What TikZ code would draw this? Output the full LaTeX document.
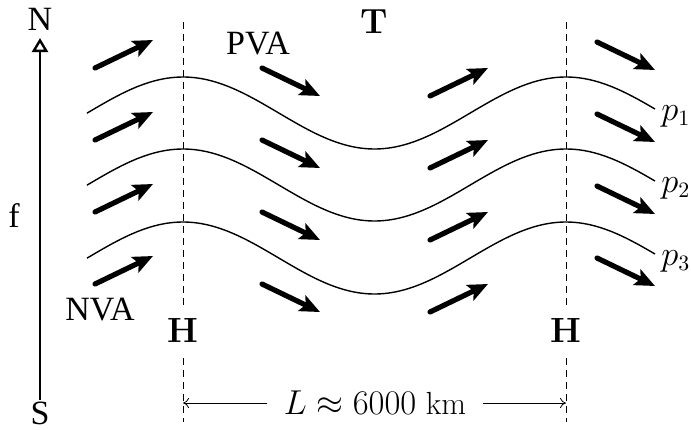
\documentclass[tikz,border=0pt]{standalone}
\usepackage{fontspec}
\newfontfamily\tms{Liberation Serif}
\usetikzlibrary{arrows.meta}
\begin{document}
\begin{tikzpicture}[x=0.5pt,y=-0.5pt,
  wind/.style={line width=2.6pt,line cap=round,-{Stealth[length=10pt,width=8.5pt,inset=2pt]}},
  wave/.style={line width=0.7pt},
  axisline/.style={line width=1.3pt,-{Triangle[open,length=7pt,width=8pt,line width=1.2pt]}},
  trough/.style={line width=0.5pt,dash pattern=on 3.5pt off 2.5pt},
  bold/.style={inner sep=0pt,font=\fontsize{17.5}{20}\selectfont\bfseries},
  mlbl/.style={inner sep=0pt,font=\fontsize{16}{18}\selectfont},
  tlbl/.style={inner sep=0pt,font=\fontsize{17}{20}\selectfont\tms},
  dim/.style={line width=0.4pt,-{To[length=3pt,width=5pt]}}]
\useasboundingbox (0,0) rectangle (691,429);
% axis
\coordinate (s0) at (40,400);
\coordinate (n0) at (40,38);
\draw[axisline] (s0) -- (n0);
\node[tlbl] (N) at (40,19) {N};
\node[tlbl] (S) at (40,413) {S};
\node[tlbl] (f) at (14,216) {f};
% dashed trough/ridge lines
\coordinate (d1t) at (183,22); \coordinate (d1b) at (183,422);
\coordinate (d2t) at (566,22); \coordinate (d2b) at (566,422);
\draw[trough] (d1t) -- (d1b);
\draw[trough] (d2t) -- (d2b);
% waves
\foreach \m in {113,185,258}{
  \draw[wave] plot[domain=87:655,samples=150,smooth] (\x,{\m-36*cos(0.93995*(\x-183))});
}
% wind arrows
\foreach \dy in {0,72,144,216}{
  \draw[wind] (95,68+\dy) -- (153,40+\dy);
  \draw[wind] (262,68+\dy) -- (320,96+\dy);
  \draw[wind] (430,96+\dy) -- (488,68+\dy);
  \draw[wind] (597,42+\dy) -- (655,70+\dy);
}
% labels
\node[tlbl] (pva) at (258,44) {PVA};
\node[tlbl] (nva) at (100,310) {NVA};
\node[bold] (T) at (374,22) {T};
\node[bold,fill=white,inner ysep=6pt] (H1) at (183,330) {H};
\node[bold,fill=white,inner ysep=6pt] (H2) at (566,330) {H};
\node[mlbl,anchor=west] (p1) at (661,116) {$p_1$};
\node[mlbl,anchor=west] (p2) at (661,188) {$p_2$};
\node[mlbl,anchor=west] (p3) at (661,261) {$p_3$};
% dimension
\node[mlbl] (L) at (375,403) {$L\approx 6000$ km};
\coordinate (la) at (183,403);
\coordinate (lb) at (566,403);
\draw[dim] (L.west) ++(-16,0) -- (la);
\draw[dim] (L.east) ++(16,0) -- (lb);
\end{tikzpicture}
\end{document}
